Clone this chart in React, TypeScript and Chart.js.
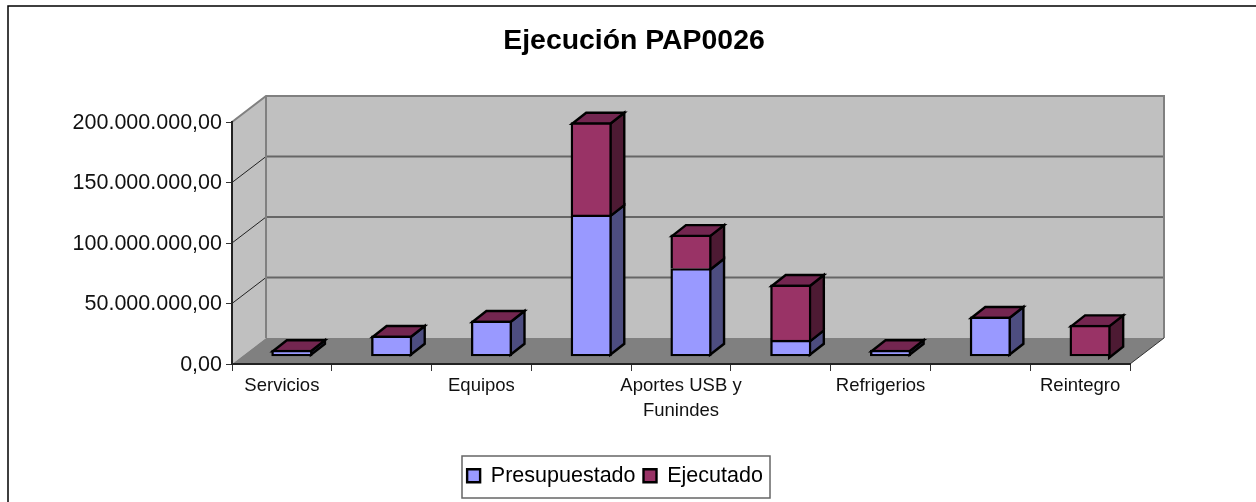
import React, { useEffect, useRef } from "react";
import { Chart, registerables } from "chart.js";

Chart.register(...registerables);

const categories: (string | string[])[] = ["Servicios", "", "Equipos", "", ["Aportes USB y", "Funindes"], "", "Refrigerios", "", "Reintegro"];
const presupuestado = [5300000, 17100000, 29500000, 117000000, 72700000, 13500000, 5300000, 32800000, 0];
const ejecutado = [0, 0, 0, 76300000, 27800000, 45700000, 0, 0, 25900000];
const yTicks = [0, 50000000, 100000000, 150000000, 200000000];

const WIDTH = 1256;
const HEIGHT = 502;
const PLOT = { left: 232, right: 1130, top: 122, bottom: 364 };
const WALL = { dx: 34, dy: -26 };
const BAR_SHIFT = { dx: 10, dy: -7.5 };
const BAR_DEPTH = { dx: 14, dy: -11 };
const FRAME = { left: 8, top: 6 };
const LEGEND_BOX = { left: 462, right: 770, top: 456, bottom: 498 };
const LEGEND_CENTER = 615;
const TITLE_CENTER = 634;
const STROKE = 2.4;

const COLORS = {
  pres: "#9999FF", presSide: "#4D4D80",
  ejec: "#993366", ejecSide: "#4D1A33", ejecTop: "#732650",
  wall: "#C0C0C0", floor: "#808080", grid: "#666666", wallEdge: "#808080",
};

const fmt = (v: number) =>
  Math.round(v).toString().replace(/\B(?=(\d{3})+$)/g, ".") + ",00";

function poly(ctx: CanvasRenderingContext2D, pts: number[][], fill: string, stroke = "#000", lw = STROKE) {
  ctx.beginPath();
  pts.forEach(([x, y], i) => (i ? ctx.lineTo(x, y) : ctx.moveTo(x, y)));
  ctx.closePath();
  ctx.fillStyle = fill;
  ctx.fill();
  if (lw) {
    ctx.strokeStyle = stroke;
    ctx.lineWidth = lw;
    ctx.lineJoin = "miter";
    ctx.stroke();
  }
}

const scene3d = {
  id: "scene3d",
  afterLayout(chart: any) {
    const t = chart.titleBlock;
    if (t) {
      const w = t.right - t.left;
      t.left = TITLE_CENTER - w / 2;
      t.right = TITLE_CENTER + w / 2;
    }
    const l = chart.legend;
    if (l) {
      l.left = LEGEND_CENTER - 300;
      l.right = LEGEND_CENTER + 300;
      l.width = 600;
      l.top = LEGEND_BOX.top + 1;
      l.bottom = LEGEND_BOX.bottom;
    }
  },
  beforeDraw(chart: any) {
    const { ctx } = chart;
    ctx.save();
    ctx.fillStyle = "#fff";
    ctx.fillRect(0, 0, WIDTH, HEIGHT);
    ctx.strokeStyle = "#000";
    ctx.lineWidth = 1.5;
    ctx.beginPath();
    ctx.moveTo(FRAME.left, HEIGHT + 2);
    ctx.lineTo(FRAME.left, FRAME.top);
    ctx.lineTo(WIDTH + 2, FRAME.top);
    ctx.stroke();
    ctx.strokeStyle = "#666";
    ctx.lineWidth = 1.5;
    ctx.strokeRect(LEGEND_BOX.left, LEGEND_BOX.top, LEGEND_BOX.right - LEGEND_BOX.left, LEGEND_BOX.bottom - LEGEND_BOX.top);
    ctx.restore();
  },
  beforeDatasetsDraw(chart: any) {
    const { ctx, chartArea: a, scales } = chart;
    const y = scales.y;
    const { dx, dy } = WALL;
    ctx.save();
    // walls and floor
    poly(ctx, [[a.left, a.top], [a.left + dx, a.top + dy], [a.left + dx, a.bottom + dy], [a.left, a.bottom]], COLORS.wall, "", 0);
    poly(ctx, [[a.left + dx, a.top + dy], [a.right + dx, a.top + dy], [a.right + dx, a.bottom + dy], [a.left + dx, a.bottom + dy]], COLORS.wall, "", 0);
    poly(ctx, [[a.left, a.bottom], [a.left + dx, a.bottom + dy], [a.right + dx, a.bottom + dy], [a.right, a.bottom]], COLORS.floor, "", 0);
    // gridlines on back wall and left wall
    yTicks.slice(1, -1).forEach((v) => {
      const py = y.getPixelForValue(v);
      ctx.strokeStyle = COLORS.grid;
      ctx.lineWidth = 2;
      ctx.beginPath();
      ctx.moveTo(a.left + dx, py + dy);
      ctx.lineTo(a.right + dx, py + dy);
      ctx.stroke();
      ctx.strokeStyle = "#222";
      ctx.lineWidth = 1;
      ctx.beginPath();
      ctx.moveTo(a.left, py);
      ctx.lineTo(a.left + dx, py + dy);
      ctx.stroke();
    });
    // wall edges
    ctx.strokeStyle = COLORS.wallEdge;
    ctx.lineWidth = 2;
    ctx.beginPath();
    ctx.moveTo(a.left, a.top);
    ctx.lineTo(a.left + dx, a.top + dy);
    ctx.lineTo(a.right + dx, a.top + dy);
    ctx.lineTo(a.right + dx, a.bottom + dy);
    ctx.moveTo(a.left + dx, a.top + dy);
    ctx.lineTo(a.left + dx, a.bottom + dy);
    ctx.stroke();
    ctx.strokeStyle = "#333";
    ctx.lineWidth = 1;
    ctx.beginPath();
    ctx.moveTo(a.right, a.bottom);
    ctx.lineTo(a.right + dx, a.bottom + dy);
    ctx.stroke();
    ctx.restore();

    // bars live one step into the depth of the floor
    ctx.save();
    ctx.translate(BAR_SHIFT.dx, BAR_SHIFT.dy);
    const d = BAR_DEPTH;
    const presBars = chart.getDatasetMeta(0).data;
    const ejecBars = chart.getDatasetMeta(1).data;
    presBars.forEach((pb: any, i: number) => {
      const eb = ejecBars[i];
      const inset = STROKE / 2;
      const half = pb.width / 2;
      const xR = pb.x + half - inset;
      const xL = pb.x - half + inset;
      const base = pb.base - inset;
      const presTop = pb.y + inset;
      const ejTop = eb.y + inset;
      if (presupuestado[i] > 0) {
        poly(ctx, [[xR, base], [xR + d.dx, base + d.dy], [xR + d.dx, presTop + d.dy], [xR, presTop]], COLORS.presSide);
      }
      if (ejecutado[i] > 0) {
        poly(ctx, [[xR, presTop], [xR + d.dx, presTop + d.dy], [xR + d.dx, ejTop + d.dy], [xR, ejTop]], COLORS.ejecSide);
      }
      const top = Math.min(presTop, ejTop);
      poly(ctx, [[xL, top], [xL + d.dx, top + d.dy], [xR + d.dx, top + d.dy], [xR, top]], COLORS.ejecTop);
    });
  },
  afterDatasetsDraw(chart: any) {
    chart.ctx.restore();
  },
};

export default function App() {
  const ref = useRef<HTMLCanvasElement>(null);
  useEffect(() => {
    document.body.style.margin = "0";
    document.body.style.overflow = "hidden";
    const chart = new Chart(ref.current!, {
      type: "bar",
      data: {
        labels: categories as any,
        datasets: [
          { label: "Presupuestado", data: presupuestado, backgroundColor: COLORS.pres, borderColor: "#000", borderWidth: STROKE, borderSkipped: false, barThickness: 40.5, clip: false } as any,
          {
            label: "Ejecutado", data: ejecutado, backgroundColor: COLORS.ejec, borderColor: "#000", borderWidth: STROKE,
            borderSkipped: (c: any) => (presupuestado[c.dataIndex] > 0 ? "bottom" : false),
            barThickness: 40.5, clip: false,
          } as any,
        ],
      },
      options: {
        responsive: false,
        animation: false,
        layout: { padding: { left: 0, right: WIDTH - PLOT.right, top: 0, bottom: 4 } },
        plugins: {
          tooltip: { enabled: false },
          title: {
            display: true,
            text: "Ejecución PAP0026",
            color: "#000",
            font: { family: "Liberation Sans", size: 28.4, weight: "bold", lineHeight: 1.2 },
            padding: { top: 24, bottom: PLOT.top - 24 - 34.08 },
          },
          legend: {
            position: "bottom",
            labels: {
              color: "#000",
              font: { family: "Liberation Sans", size: 21.5 },
              boxWidth: 13,
              boxHeight: 13,
              padding: 8,
            },
          },
        },
        scales: {
          x: {
            stacked: true,
            offset: true,
            afterFit: (s: any) => {
              s.height = HEIGHT - PLOT.bottom - 4 - (s.chart.legend?.height ?? 0);
            },
            border: { color: "#222", width: 2, z: 1 },
            grid: { offset: true, drawOnChartArea: false, tickLength: 7, color: "#333", tickColor: "#333", z: 1 },
            ticks: {
              autoSkip: false,
              maxRotation: 0,
              minRotation: 0,
              padding: 2,
              color: "#111",
              font: { family: "Liberation Sans", size: 18.5, lineHeight: 1.35 },
            },
          },
          y: {
            stacked: true,
            min: 0,
            max: 200000000,
            afterFit: (s: any) => {
              s.width = PLOT.left;
            },
            afterBuildTicks: (s: any) => {
              s.ticks = yTicks.map((value) => ({ value }));
            },
            border: { color: "#222", width: 2, z: 1 },
            grid: { drawOnChartArea: false, tickLength: 6, color: "#333", tickColor: "#333", z: 1 },
            ticks: {
              padding: 4,
              labelOffset: 1,
              color: "#111",
              font: { family: "Liberation Sans", size: 21.5 },
              callback: (v: any) => fmt(Number(v)),
            },
          },
        },
      },
      plugins: [scene3d as any],
    });
    return () => chart.destroy();
  }, []);
  return <canvas ref={ref} width={WIDTH} height={HEIGHT} style={{ display: "block" }} />;
}
